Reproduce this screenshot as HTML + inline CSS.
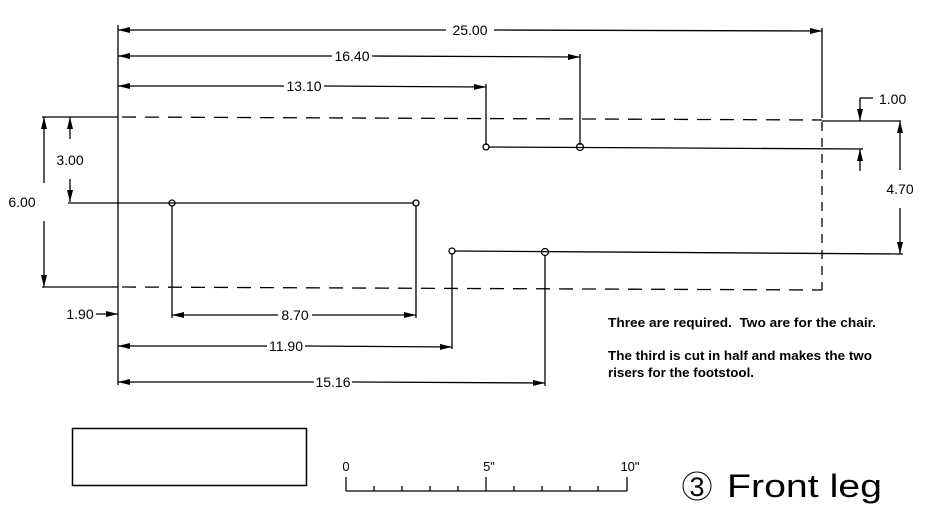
<!DOCTYPE html>
<html><head><meta charset="utf-8"><style>
html,body{margin:0;padding:0;background:#fff;}
svg{display:block}
text{font-family:"Liberation Sans",sans-serif;fill:#000}
.d{font-size:14px;font-weight:300}
</style></head><body>
<svg width="938" height="525" viewBox="0 0 938 525" xmlns="http://www.w3.org/2000/svg">
<defs>
<marker id="a" viewBox="0 0 12 6" refX="12" refY="3" markerWidth="12" markerHeight="6" markerUnits="userSpaceOnUse" orient="auto-start-reverse"><path d="M0,0 L12,3 L0,6 z" fill="#000"/></marker>
</defs>
<g stroke="#000" stroke-width="1.3" fill="none">
<line x1="118" y1="25" x2="118" y2="385"/>
<line x1="118" y1="30" x2="446" y2="30" marker-start="url(#a)"/>
<line x1="494" y1="30" x2="822" y2="31" marker-end="url(#a)"/>
<line x1="822" y1="28" x2="822" y2="118"/>
<line x1="118" y1="56" x2="332" y2="56" marker-start="url(#a)"/>
<line x1="372" y1="56" x2="580" y2="57" marker-end="url(#a)"/>
<line x1="580" y1="54" x2="580" y2="145"/>
<line x1="118" y1="86" x2="284" y2="86" marker-start="url(#a)"/>
<line x1="324" y1="86" x2="486" y2="87" marker-end="url(#a)"/>
<line x1="486" y1="84" x2="486" y2="145"/>
<line x1="42" y1="117" x2="118" y2="117"/>
<line x1="122" y1="117" x2="822" y2="120" stroke-dasharray="14,9"/>
<line x1="822" y1="121" x2="901" y2="121"/>
<line x1="42" y1="287" x2="118" y2="287"/>
<line x1="122" y1="287" x2="822" y2="290" stroke-dasharray="14,9"/>
<line x1="822" y1="122" x2="822" y2="290" stroke-dasharray="9,7"/>
<line x1="489" y1="147" x2="863" y2="149"/>
<circle cx="486" cy="147" r="3"/><circle cx="580" cy="147" r="3.5"/>
<line x1="860" y1="98" x2="860" y2="121" marker-end="url(#a)"/>
<line x1="860" y1="98" x2="873" y2="98"/>
<line x1="860" y1="171" x2="860" y2="149" marker-end="url(#a)"/>
<line x1="900" y1="170" x2="900" y2="121" marker-end="url(#a)"/>
<line x1="900" y1="208" x2="900" y2="254" marker-end="url(#a)"/>
<line x1="68" y1="203" x2="413" y2="203"/>
<circle cx="172" cy="203" r="3"/><circle cx="416" cy="203" r="3"/>
<line x1="44" y1="183" x2="44" y2="117" marker-end="url(#a)"/>
<line x1="44" y1="221" x2="44" y2="287" marker-end="url(#a)"/>
<line x1="70" y1="139" x2="70" y2="117" marker-end="url(#a)"/>
<line x1="70" y1="179" x2="70" y2="202" marker-end="url(#a)"/>
<line x1="455" y1="251" x2="903" y2="254"/>
<circle cx="452" cy="251" r="3"/><circle cx="545" cy="252" r="3.5"/>
<line x1="172" y1="206" x2="172" y2="318"/>
<line x1="416" y1="206" x2="416" y2="318"/>
<line x1="452" y1="254" x2="452" y2="349"/>
<line x1="545" y1="255" x2="545" y2="386"/>
<line x1="172" y1="315" x2="278" y2="315" marker-start="url(#a)"/>
<line x1="312" y1="315" x2="416" y2="315" marker-end="url(#a)"/>
<line x1="96" y1="314" x2="118" y2="314" marker-end="url(#a)"/>
<line x1="118" y1="346" x2="267" y2="346" marker-start="url(#a)"/>
<line x1="305" y1="346" x2="452" y2="347" marker-end="url(#a)"/>
<line x1="118" y1="382" x2="314" y2="382" marker-start="url(#a)"/>
<line x1="352" y1="382" x2="545" y2="383" marker-end="url(#a)"/>
<rect x="72.5" y="428.5" width="234" height="57" stroke-width="1.5"/>
<line x1="346" y1="491" x2="627" y2="491"/>
<line x1="346" y1="477" x2="346" y2="491"/>
<line x1="486" y1="477" x2="486" y2="491"/>
<line x1="627" y1="477" x2="627" y2="491"/>
<path d="M374 486v5M402 486v5M430 486v5M458 486v5M514 486v5M542 486v5M570 486v5M598 486v5"/>
<circle cx="697" cy="486" r="14" stroke-width="1"/>
</g>
<g class="d">
<text x="470" y="35" text-anchor="middle">25.00</text>
<text x="352" y="61" text-anchor="middle">16.40</text>
<text x="304" y="91" text-anchor="middle">13.10</text>
<text x="879" y="104">1.00</text>
<text x="900" y="194" text-anchor="middle">4.70</text>
<text x="70" y="165" text-anchor="middle">3.00</text>
<text x="22" y="207" text-anchor="middle">6.00</text>
<text x="295" y="320" text-anchor="middle">8.70</text>
<text x="80" y="319" text-anchor="middle">1.90</text>
<text x="286" y="351" text-anchor="middle">11.90</text>
<text x="333" y="387" text-anchor="middle">15.16</text>
<text x="346" y="471" text-anchor="middle" font-size="13">0</text>
<text x="489" y="471" text-anchor="middle" font-size="13">5"</text>
<text x="630" y="471" text-anchor="middle" font-size="13">10"</text>
<text x="697" y="496" text-anchor="middle" font-size="27">3</text>
<text x="727" y="497" font-size="32" textLength="155" lengthAdjust="spacingAndGlyphs">Front leg</text>
</g>
<g font-size="13" font-weight="bold">
<text x="608" y="327" textLength="268" lengthAdjust="spacingAndGlyphs" xml:space="preserve">Three are required.  Two are for the chair.</text>
<text x="608" y="360" textLength="264" lengthAdjust="spacingAndGlyphs">The third is cut in half and makes the two</text>
<text x="608" y="377" textLength="146" lengthAdjust="spacingAndGlyphs">risers for the footstool.</text>
</g>
</svg>
</body></html>
